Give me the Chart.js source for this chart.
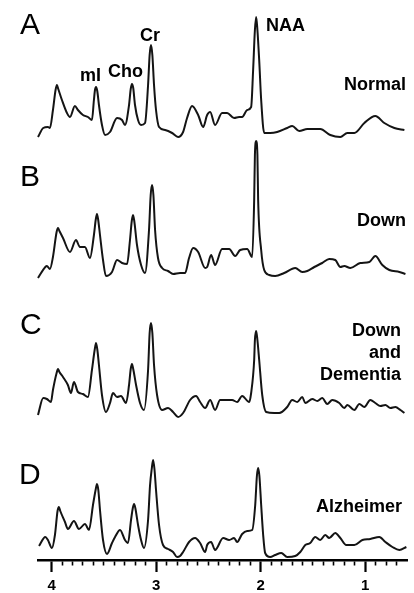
<!DOCTYPE html>
<html><head><meta charset="utf-8">
<script src="https://cdn.jsdelivr.net/npm/chart.js@4/dist/chart.umd.min.js"></script>
<style>
html,body{margin:0;padding:0;background:#fff;}
#wrap{position:relative;width:414px;height:593px;overflow:hidden;background:#fff;font-family:"Liberation Sans",Arial,Helvetica,sans-serif;}
canvas{position:absolute;left:0;top:0;}
.lbl{position:absolute;line-height:1;color:#000;white-space:nowrap;}
.big{font-size:30px;font-weight:400;}
.ann{font-size:18px;font-weight:700;}
.r{text-align:right;}
</style></head>
<body><div id="wrap">
<canvas id="cA" width="414" height="593"></canvas>
<canvas id="cB" width="414" height="593"></canvas>
<canvas id="cC" width="414" height="593"></canvas>
<canvas id="cD" width="414" height="593"></canvas>
<div class="lbl big" style="left:20px;top:9px">A</div>
<div class="lbl big" style="left:20px;top:161px">B</div>
<div class="lbl big" style="left:20px;top:309px">C</div>
<div class="lbl big" style="left:19px;top:459px">D</div>
<div class="lbl ann" style="left:80px;top:66px">mI</div>
<div class="lbl ann" style="left:108px;top:62px">Cho</div>
<div class="lbl ann" style="left:140px;top:26px">Cr</div>
<div class="lbl ann" style="left:266px;top:16px">NAA</div>
<div class="lbl ann r" style="right:8px;top:75px">Normal</div>
<div class="lbl ann r" style="right:8px;top:211px">Down</div>
<div class="lbl ann r" style="right:13px;top:319px;line-height:22px">Down<br>and<br>Dementia</div>
<div class="lbl ann r" style="right:12px;top:497px">Alzheimer</div>
</div>
<script>
// chemical shift axis (ppm), reversed
const xMin = 0.6, xMax = 4.13;
const tickLabels = ['4', '3', '2', '1'];

// A: Normal
const ppmA = [4.13,4.08,4.035,4.016,3.987,3.962,3.949,3.936,3.901,3.853,3.824,3.777,3.748,3.70,3.652,3.614,3.595,3.585,3.575,3.563,3.547,3.518,3.489,3.441,3.374,3.326,3.298,3.259,3.243,3.231,3.219,3.202,3.173,3.144,3.106,3.077,3.062,3.049,3.036,3.020,3.001,2.972,2.914,2.847,2.79,2.742,2.704,2.656,2.598,2.55,2.512,2.483,2.436,2.369,2.321,2.254,2.206,2.177,2.129,2.091,2.072,2.055,2.043,2.031,2.014,1.995,1.966,1.909,1.842,1.746,1.698,1.631,1.554,1.43,1.334,1.238,1.171,1.104,1.008,0.903,0.817,0.721,0.625];
const intA = [8,17,18,17,35,55,60,56,45,32,28,39,35,30,28,25,45,55,58,54,40,20,10,13,27,25,20,40,56,61,57,40,25,20,22,60,90,100,90,60,35,18,15,12,8,13,27,39,30,18,30,33,20,32,32,27,28,28,35,38,75,115,128,115,85,45,12,12,13,17,19,14,16,16,10,8,12,12,22,29,22,17,15];

// B: Down
const ppmB = [4.13,4.06,4.045,4.016,3.987,3.952,3.939,3.925,3.891,3.824,3.767,3.729,3.681,3.633,3.595,3.578,3.566,3.554,3.537,3.508,3.48,3.422,3.374,3.326,3.278,3.25,3.233,3.221,3.209,3.183,3.144,3.106,3.068,3.052,3.039,3.026,3.01,2.982,2.943,2.886,2.838,2.771,2.723,2.685,2.646,2.598,2.531,2.512,2.474,2.436,2.369,2.301,2.244,2.196,2.129,2.081,2.062,2.055,2.043,2.031,2.024,1.995,1.966,1.918,1.861,1.775,1.669,1.602,1.554,1.487,1.411,1.344,1.286,1.238,1.2,1.142,1.047,0.96,0.903,0.836,0.769,0.673,0.615];
const intB = [12,23,24,21,33,58,62,59,52,38,50,43,43,32,55,70,76,70,55,30,14,18,30,27,26,50,69,75,69,45,25,17,60,95,105,95,60,32,22,19,16,17,17,32,42,38,22,23,35,25,41,41,34,40,41,33,90,135,149,135,90,40,20,15,14,17,22,18,19,23,27,31,30,23,24,22,27,28,34,25,20,18,16];

// C: Down and Dementia
const ppmC = [4.13,4.08,4.045,4.006,3.987,3.952,3.939,3.925,3.891,3.844,3.815,3.786,3.748,3.70,3.652,3.614,3.588,3.575,3.562,3.547,3.518,3.48,3.441,3.413,3.374,3.336,3.288,3.259,3.243,3.231,3.219,3.192,3.154,3.116,3.077,3.062,3.049,3.036,3.02,2.991,2.943,2.886,2.838,2.79,2.742,2.675,2.618,2.579,2.531,2.483,2.436,2.388,2.273,2.225,2.177,2.11,2.091,2.062,2.055,2.043,2.031,2.014,1.985,1.947,1.87,1.822,1.746,1.698,1.65,1.602,1.573,1.506,1.458,1.411,1.363,1.315,1.248,1.2,1.171,1.104,1.056,1.008,0.951,0.903,0.855,0.807,0.759,0.711,0.663,0.625];
const intC = [15,32,31,28,40,57,61,58,53,45,37,48,38,36,33,60,80,87,80,65,35,18,27,37,33,34,27,45,61,66,61,45,27,20,60,97,107,97,65,35,20,22,18,13,17,30,34,28,22,30,20,30,30,28,34,28,37,70,90,99,90,70,35,18,17,17,23,30,28,33,27,31,29,32,26,30,27,22,25,20,26,23,30,27,24,25,22,23,20,17];

// D: Alzheimer
const ppmD = [4.12,4.06,4.035,3.997,3.968,3.943,3.93,3.917,3.872,3.844,3.786,3.738,3.681,3.642,3.604,3.579,3.566,3.553,3.537,3.508,3.47,3.422,3.393,3.345,3.298,3.269,3.24,3.223,3.211,3.199,3.173,3.144,3.116,3.077,3.058,3.042,3.029,3.016,3.001,2.972,2.934,2.886,2.838,2.80,2.771,2.742,2.685,2.627,2.579,2.531,2.512,2.474,2.436,2.359,2.301,2.254,2.225,2.177,2.129,2.081,2.052,2.036,2.024,2.012,1.995,1.976,1.957,1.909,1.861,1.803,1.746,1.669,1.621,1.573,1.526,1.478,1.43,1.382,1.344,1.286,1.238,1.181,1.104,1.027,0.951,0.865,0.807,0.74,0.673,0.606];
const intD = [14,23,20,12,25,49,53,49,38,31,39,31,36,30,55,70,76,70,50,20,6,17,23,30,20,17,40,52,56,52,35,20,12,40,75,91,100,91,70,35,15,11,8,3,4,8,18,22,17,8,15,18,10,22,20,22,18,26,29,30,55,84,92,84,55,25,7,3,5,7,3,4,8,15,17,23,20,25,22,27,22,15,15,20,21,23,18,13,10,13];

const FONT = '"Liberation Sans", Arial, Helvetica, sans-serif';
const isMajor = v => Math.abs(v - Math.round(v)) < 1e-6;
const isStep = v => Math.abs(v * 10 - Math.round(v * 10)) < 1e-6;

function makePanel(id, ppm, inten, padTop, padBottom, yMax, showAxis) {
  const data = ppm.map((p, i) => ({ x: p, y: inten[i] }));
  const xScale = {
    type: 'linear', reverse: true, min: xMin, max: xMax, display: showAxis
  };
  if (showAxis) {
    Object.assign(xScale, {
      afterFit(s) { s.height = 33; },
      afterBuildTicks(s) {
        s.ticks = s.ticks.filter(t => t.value > 0.65 && t.value < 4.11 && isStep(t.value));
      },
      border: { display: true, color: '#000', width: 2.5 },
      grid: {
        display: true, drawOnChartArea: false, drawTicks: true, tickLength: 12,
        color: '#000', tickColor: '#000',
        tickWidth: c => (c.tick && isMajor(c.tick.value)) ? 2.2 : 1.6,
        tickBorderDash: c => (c.tick && isMajor(c.tick.value)) ? [] : [4, 40]
      },
      ticks: {
        stepSize: 0.1, autoSkip: false, maxRotation: 0, minRotation: 0, padding: 5,
        color: '#000', font: { family: FONT, size: 15, weight: 'bold' },
        callback: v => {
          if (!isMajor(v)) return '';
          const idx = 4 - Math.round(v);
          return tickLabels[idx] !== undefined ? tickLabels[idx] : '';
        }
      }
    });
  }
  return new Chart(document.getElementById(id), {
    type: 'line',
    data: { datasets: [{
      data, borderColor: '#141414', borderWidth: 2, pointRadius: 0,
      cubicInterpolationMode: 'monotone', fill: false, clip: false
    }] },
    options: {
      responsive: false, animation: false, devicePixelRatio: 1, events: [],
      layout: { padding: { left: 38, right: 7, top: padTop, bottom: padBottom } },
      plugins: { legend: { display: false }, tooltip: { enabled: false } },
      scales: { x: xScale, y: { display: false, min: 0, max: yMax } }
    }
  });
}

makePanel('cA', ppmA, intA, 0, 448, 145, false);
makePanel('cB', ppmB, intB, 145, 303, 145, false);
makePanel('cC', ppmC, intC, 290, 163, 140, false);
makePanel('cD', ppmD, intD, 430, 0, 130, true);
</script>
</body></html>
